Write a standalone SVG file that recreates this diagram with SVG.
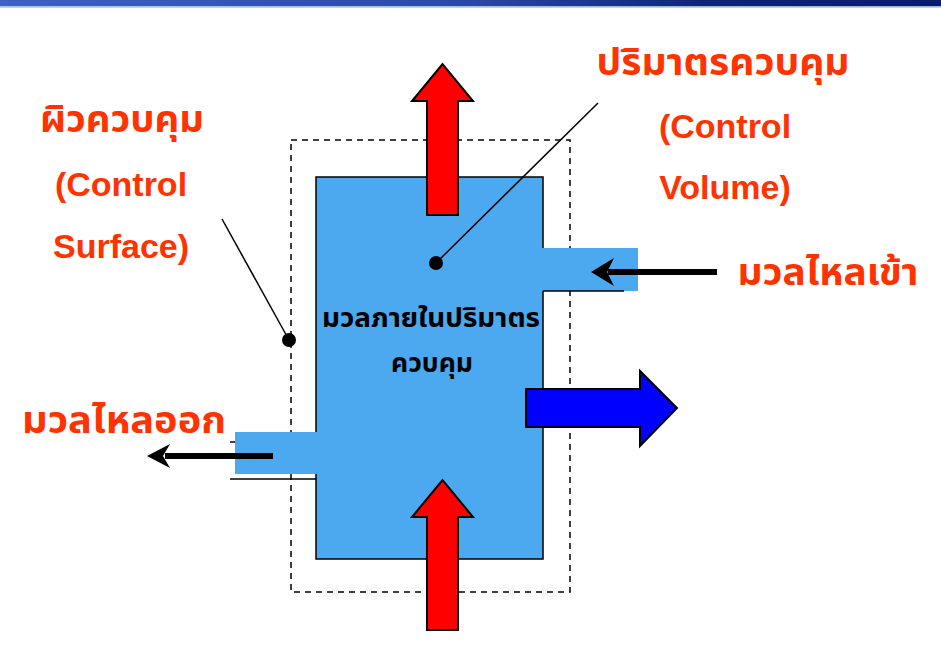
<svg xmlns="http://www.w3.org/2000/svg" width="941" height="669" viewBox="0 0 941 669">
<style>
.lbl{font-family:"Noto Sans Thai","Loma","Garuda","Liberation Sans",sans-serif;font-weight:bold;fill:#ff3300;text-anchor:middle}
.en{font-family:"Liberation Sans",Arial,sans-serif;font-weight:bold;fill:#ff3300;text-anchor:middle;font-size:34px}
.th{font-size:38px}
.inner{font-family:"Noto Sans Thai","Loma","Garuda","Liberation Sans",sans-serif;font-weight:bold;fill:#000;text-anchor:middle;font-size:27px}
.red{fill:#ff0000;stroke:#000;stroke-width:2;stroke-linejoin:miter}
.thin{stroke:#000;stroke-width:1.5;fill:none}
.bar{stroke:#000;stroke-width:6;fill:none}
.pipe{fill:#4ca8ef}
</style>
<defs>
<linearGradient id="bn" x1="0" y1="0" x2="1" y2="0">
<stop offset="0" stop-color="#3d62c4"/>
<stop offset="0.5" stop-color="#2a48a8"/>
<stop offset="0.75" stop-color="#0e2478"/>
<stop offset="1" stop-color="#0a1a6c"/>
</linearGradient>
</defs>
<rect x="0" y="0" width="941" height="669" fill="#fff"/>
<g id="banner">
<rect x="0" y="0" width="941" height="6.5" fill="url(#bn)"/>
<rect x="0" y="6.5" width="941" height="1.5" fill="#a8dcf4"/>
</g>
<g id="control-surface">
<rect x="291" y="140" width="279" height="452" fill="none" stroke="#000" stroke-width="1.5" stroke-dasharray="6,5"/>
</g>
<g id="control-volume">
<rect x="316" y="177" width="227" height="382" class="pipe"/>
<path d="M543,248 V177 H316 V432 M316,474 V559 H543 V291" class="thin"/>
</g>
<g id="inlet-pipe">
<rect x="543" y="248" width="95" height="43" class="pipe"/>
<line x1="543" y1="291" x2="624" y2="291" class="thin"/>
</g>
<g id="outlet-pipe">
<line x1="230" y1="442" x2="316" y2="442" class="thin"/>
<line x1="230" y1="479" x2="316" y2="479" class="thin"/>
<rect x="235" y="432" width="82" height="42" class="pipe"/>
</g>
<g id="arrow-top">
<path class="red" d="M427,215 V101 H412 L442.5,64 L473,101 H458 V215 Z"/>
</g>
<g id="arrow-bottom">
<path class="red" d="M427,630 V517 H412 L442.5,480 L473,517 H458 V630 Z"/>
</g>
<g id="arrow-blue">
<path d="M526,389 H640 V371 L677,408 L640,446 V427 H526 Z" fill="#0000ff" stroke="#000" stroke-width="2"/>
</g>
<g id="connectors">
<line x1="608" y1="272" x2="717" y2="272" class="bar"/>
<path d="M591,272 L614,258 L607,272 L614,286 Z" fill="#000"/>
<line x1="165" y1="456" x2="273" y2="456" class="bar"/>
<path d="M147,456 L170,444 L163,456 L170,468 Z" fill="#000"/>
<line x1="436" y1="263" x2="598" y2="103" stroke="#000" stroke-width="1.5"/>
<circle cx="436" cy="263" r="7" fill="#000"/>
<line x1="222" y1="219" x2="289" y2="340" stroke="#000" stroke-width="1.5"/>
<circle cx="289" cy="340" r="7" fill="#000"/>
</g>
<g id="label-surface">
<text class="lbl th" x="122" y="132" textLength="164" lengthAdjust="spacingAndGlyphs">ผิวควบคุม</text>
<text class="en" x="121" y="196">(Control</text>
<text class="en" x="121" y="258">Surface)</text>
</g>
<g id="label-volume">
<text class="lbl th" x="723" y="75" textLength="253" lengthAdjust="spacingAndGlyphs">ปริมาตรควบคุม</text>
<text class="en" x="725" y="138">(Control</text>
<text class="en" x="725" y="199">Volume)</text>
</g>
<g id="label-in">
<text class="lbl th" x="828" y="285" textLength="181" lengthAdjust="spacingAndGlyphs">มวลไหลเข้า</text>
</g>
<g id="label-out">
<text class="lbl th" x="124" y="433" textLength="204" lengthAdjust="spacingAndGlyphs">มวลไหลออก</text>
</g>
<g id="label-inner">
<text class="inner" x="431" y="327" textLength="218" lengthAdjust="spacingAndGlyphs">มวลภายในปริมาตร</text>
<text class="inner" x="432" y="372" textLength="82" lengthAdjust="spacingAndGlyphs">ควบคุม</text>
</g>
</svg>
